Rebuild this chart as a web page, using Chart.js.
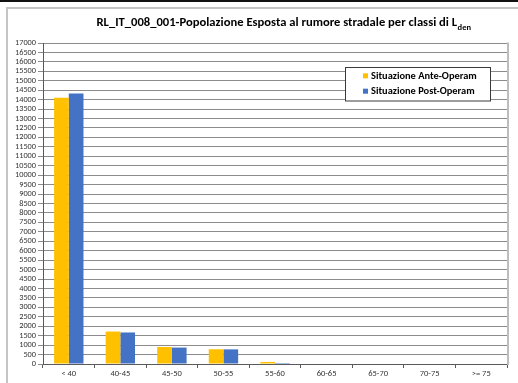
<!DOCTYPE html>
<html>
<head>
<meta charset="utf-8">
<script src="https://cdn.jsdelivr.net/npm/chart.js@4/dist/chart.umd.min.js"></script>
<style>
  html, body { margin: 0; padding: 0; background: #fff; width: 518px; height: 383px; overflow: hidden; }
  #topline { position: absolute; left: 0; top: 0; width: 518px; height: 2px; background: #111; }
  #frame { position: absolute; left: 6px; top: 7px; width: 540px; height: 420px; border: 2px solid #c4c4c4; box-sizing: border-box; }
  #wrap { position: absolute; left: 0; top: 0; width: 518px; height: 383px; }
</style>
</head>
<body>
<div id="topline"></div>
<div id="frame"></div>
<div id="wrap"><canvas id="c" width="518" height="383"></canvas></div>
<script>
// Noise exposure classes (Lden, dB) and exposed population per scenario
const categories = ['< 40', '40-45', '45-50', '50-55', '55-60', '60-65', '65-70', '70-75', '>= 75'];
const anteOperam = [14100, 1720, 900, 780, 110, 0, 0, 0, 0];
const postOperam = [14320, 1670, 870, 775, 50, 0, 0, 0, 0];
const seriesNames = ['Situazione Ante-Operam', 'Situazione Post-Operam'];
const seriesColors = ['#FFC000', '#4472C4'];
const yMin = 0, yMax = 17000, yStep = 500;
const titleMain = 'RL_IT_008_001-Popolazione Esposta al rumore stradale per classi di L';
const titleSub = 'den';

const FONT = 'Carlito, Lato, "Liberation Sans", sans-serif';

// Title with subscript, drawn above the plot
const titlePlugin = {
  id: 'subTitle',
  afterDraw(chart) {
    const ctx = chart.ctx;
    ctx.save();
    ctx.fillStyle = '#000';
    ctx.textBaseline = 'alphabetic';
    ctx.font = 'bold 12.6px ' + FONT;
    const wMain = ctx.measureText(titleMain).width;
    ctx.font = 'bold 8.5px ' + FONT;
    const wSub = ctx.measureText(titleSub).width;
    const x0 = 283.5 - (wMain + wSub) / 2;
    ctx.font = 'bold 12.6px ' + FONT;
    ctx.fillText(titleMain, x0, 25.5);
    ctx.font = 'bold 8.5px ' + FONT;
    ctx.fillText(titleSub, x0 + wMain + 0.5, 29.5);
    ctx.restore();
  }
};

// Right edge of the plot area and the boxed legend inside it
const framePlugin = {
  id: 'plotFrame',
  afterDraw(chart) {
    const ctx = chart.ctx;
    const a = chart.chartArea;
    ctx.save();
    ctx.strokeStyle = '#bdbdbd';
    ctx.lineWidth = 2;
    ctx.beginPath();
    ctx.moveTo(a.right + 1, a.top - 0.5);
    ctx.lineTo(a.right + 1, a.bottom + 1);
    ctx.stroke();

    // legend box
    const bx = 345.5, by = 67.5, bw = 145, bh = 33.5;
    ctx.fillStyle = '#fff';
    ctx.fillRect(bx, by, bw, bh);
    ctx.strokeStyle = '#3a3a3a';
    ctx.lineWidth = 1;
    ctx.strokeRect(bx, by, bw, bh);
    ctx.font = 'bold 10.4px ' + FONT;
    ctx.textBaseline = 'middle';
    chart.data.datasets.forEach((ds, i) => {
      const cy = 75.8 + i * 15.4;
      ctx.fillStyle = ds.backgroundColor;
      ctx.fillRect(363, cy - 2.5, 5, 5);
      ctx.fillStyle = '#000';
      ctx.fillText(ds.label, 371, cy + 0.5);
    });
    ctx.restore();
  }
};

new Chart(document.getElementById('c'), {
  type: 'bar',
  data: {
    labels: categories,
    datasets: [
      { label: seriesNames[0], data: anteOperam, backgroundColor: seriesColors[0] },
      { label: seriesNames[1], data: postOperam, backgroundColor: seriesColors[1] }
    ]
  },
  options: {
    responsive: false,
    animation: false,
    devicePixelRatio: 1,
    layout: { padding: { left: 0, top: 43, right: 11, bottom: 0 } },
    datasets: { bar: { categoryPercentage: 0.57, barPercentage: 1.0, borderWidth: 0 } },
    plugins: { legend: { display: false }, title: { display: false }, tooltip: { enabled: false } },
    scales: {
      x: {
        grid: { display: true, drawOnChartArea: false, drawTicks: true, tickLength: 4, offset: true, color: '#5a5a5a' },
        border: { color: '#5a5a5a', width: 1 },
        ticks: { color: '#333', font: { family: FONT, size: 8.5 }, padding: 1, maxRotation: 0, autoSkip: false },
        afterFit(s) { s.height = 19; }
      },
      y: {
        min: yMin, max: yMax,
        ticks: { stepSize: yStep, color: '#333', font: { family: FONT, size: 8.3 }, padding: 2, autoSkip: false,
                 callback: v => String(v) },
        grid: { color: '#8c8c8c', lineWidth: 1, tickLength: 5 },
        border: { color: '#5a5a5a', width: 1 },
        afterFit(s) { s.width = 43; }
      }
    }
  },
  plugins: [titlePlugin, framePlugin]
});
</script>
</body>
</html>
